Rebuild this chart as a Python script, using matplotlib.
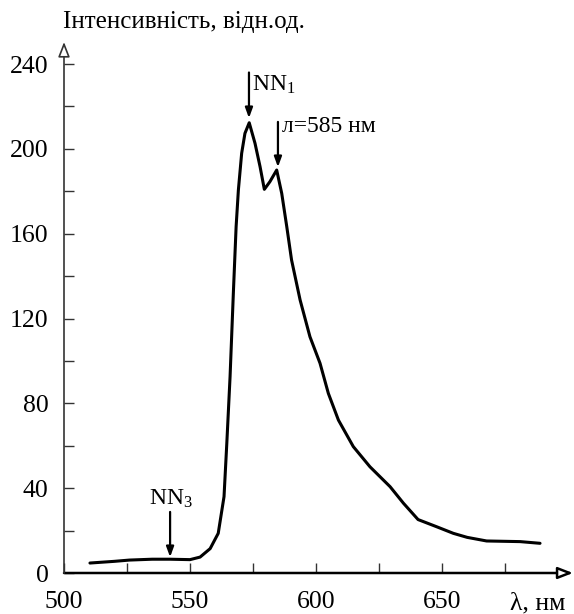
import matplotlib
matplotlib.use("Agg")
import matplotlib.pyplot as plt
import numpy as np

plt.rcParams['font.family'] = ['Liberation Serif', 'DejaVu Serif']
plt.rcParams['mathtext.fontset'] = 'custom'
plt.rcParams['mathtext.rm'] = 'Liberation Serif'
plt.rcParams['mathtext.it'] = 'Liberation Serif'

# Data
wavelength = [510.3, 520, 526, 535, 542, 550, 554, 558, 561.2, 563.5, 564.6, 565.9,
              567.2, 568.3, 569.2, 570.5, 571.8, 573.5, 575.8, 577.8, 579.5, 581.7,
              584.4, 586.4, 588.4, 590.3, 593.7, 597.6, 601.6, 604.9, 608.9, 614.8,
              621.4, 629.4, 634.7, 640.5, 647.9, 654.5, 660, 667.7, 681, 688.9]
intensity = [4.7, 5.5, 6.1, 6.5, 6.5, 6.3, 7.5, 11.5, 18.7, 36, 61, 92.6,
             131.9, 163.3, 180.6, 197.9, 207.3, 212.3, 202.6, 191.6, 180.9, 184.5,
             190.0, 179.0, 163.3, 147.6, 128.7, 111.4, 98.9, 84.7, 72.1, 59.6,
             50.1, 40.7, 32.9, 25.2, 21.8, 18.7, 16.8, 15.1, 14.8, 14.0]

x_ticks = [500, 525, 550, 575, 600, 625, 650, 675]
x_ticklabels = ['500', '', '550', '', '600', '', '650', '']
y_major = [0, 40, 80, 120, 160, 200, 240]
y_minor = [20, 60, 100, 140, 180, 220]

ylabel = 'Інтенсивність, відн.од.'
xlabel = 'λ, нм'
ann1 = r'NN$_{\mathrm{1}}$'
ann2 = 'л=585 нм'
ann3 = r'NN$_{\mathrm{3}}$'

W, H = 574, 614
fig = plt.figure(figsize=(W / 100, H / 100), dpi=100)
ax = fig.add_axes([64 / W, 1 - 573 / H, (573 - 64) / W, (573 - 42) / H])
ax.set_xlim(500, 500 + (573 - 64) / 2.52)
ax.set_ylim(0, (573 - 42) / 2.1208)
ax.patch.set_visible(False)

ax.plot(wavelength, intensity, color='black', lw=2.2, solid_capstyle='round',
        solid_joinstyle='round')

for s in ax.spines.values():
    s.set_visible(False)

# axes with arrows
ax.annotate('', xy=(1.0, 0), xytext=(0, 0), xycoords='axes fraction',
            arrowprops=dict(arrowstyle='-|>,head_length=0.9,head_width=0.35',
                            fc='white', ec='black', lw=1.8, shrinkA=0, shrinkB=0))
ax.annotate('', xy=(0, 1.0), xytext=(0, 0), xycoords='axes fraction',
            arrowprops=dict(arrowstyle='-|>,head_length=0.9,head_width=0.35',
                            fc='white', ec='#333333', lw=1.2, shrinkA=0, shrinkB=0))

ax.set_xticks(x_ticks)
ax.set_xticklabels(x_ticklabels)
ax.set_yticks(y_major)
ax.set_yticks(y_minor, minor=True)
ax.tick_params(axis='both', which='both', direction='in', length=7, width=1.0,
               color='#333333', labelsize=18.5)
ax.tick_params(axis='x', pad=13)
ax.tick_params(axis='y', pad=11)

ax.text(688, -0.037, xlabel, transform=ax.get_xaxis_transform(), ha='center',
        va='top', fontsize=18.5)
fig.text(63 / W, 1 - 22 / H, ylabel, ha='left', va='center', fontsize=18)

ap = dict(arrowstyle='-|>,head_length=0.6,head_width=0.22', color='black', lw=1.6,
          shrinkA=0, shrinkB=0)
ax.annotate('', xy=(573.4, 214.5), xytext=(573.4, 236.0), arrowprops=ap)
ax.text(574.5, 230, ann1, ha='left', va='center', fontsize=17)
ax.annotate('', xy=(584.9, 191.4), xytext=(584.9, 212.7), arrowprops=ap)
ax.text(586.5, 210.3, ann2, ha='left', va='center', fontsize=17)
ax.annotate('', xy=(542.1, 7.5), xytext=(542.1, 28.8), arrowprops=ap)
ax.text(542.5, 35, ann3, ha='center', va='center', fontsize=17)

fig.savefig('out.png', dpi=100)
